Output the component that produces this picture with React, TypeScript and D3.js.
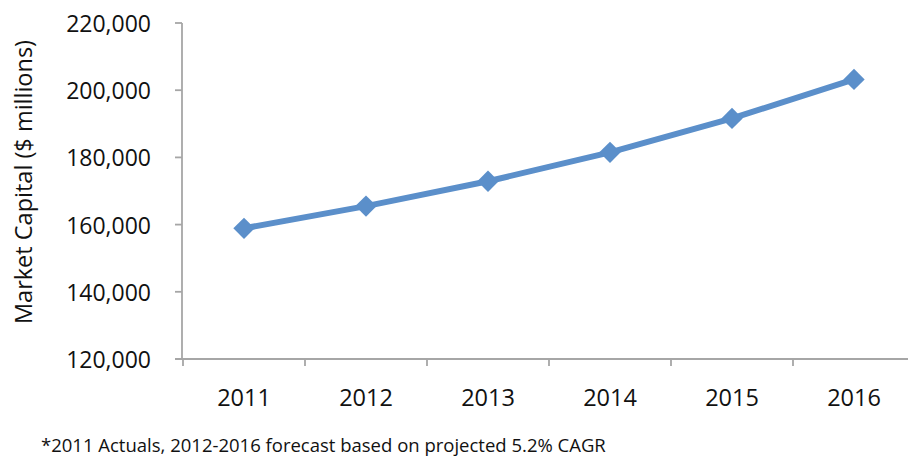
import React from "react";
import * as d3 from "d3";

const years = ["2011", "2012", "2013", "2014", "2015", "2016"];
const marketCap = [158900, 165500, 172900, 181500, 191600, 203200];
const yTicks = [120000, 140000, 160000, 180000, 200000, 220000];
const yTitle = "Market Capital ($ millions)";
const footnote = "*2011 Actuals, 2012-2016 forecast based on projected 5.2% CAGR";

const W = 908;
const H = 459;
const FONT = "'Open Sans', 'Noto Sans', sans-serif";
const AXIS = "#a6a6a6";
const BLUE = "#5b8fca";
const TEXT = "#111";

export default function App() {
  const x = d3.scaleBand<string>().domain(years).range([183, 915]);
  const y = d3.scaleLinear().domain([120000, 220000]).range([359, 23]);
  const fmt = d3.format(",");
  const cx = (i: number) => (x(years[i]) as number) + x.bandwidth() / 2;
  const line = d3
    .line<number>()
    .x((_, i) => cx(i))
    .y((d) => y(d));
  const diamond = d3.symbol().type(d3.symbolDiamond2).size(290)();

  return (
    <svg
      width={W}
      height={H}
      style={{ position: "absolute", left: 0, top: 0, background: "#fff" }}
      fontFamily={FONT}
    >
      {/* y axis */}
      <line x1={182} x2={182} y1={y(220000)} y2={y(120000)} stroke={AXIS} strokeWidth={1.8} />
      {yTicks.map((t) => (
        <g key={t}>
          <line x1={175} x2={182} y1={y(t)} y2={y(t)} stroke={AXIS} strokeWidth={1.8} />
          <text
            x={151}
            y={y(t)}
            textAnchor="end"
            dominantBaseline="central"
            fontSize={23}
            fill={TEXT}
          >
            {fmt(t)}
          </text>
        </g>
      ))}
      {/* x axis */}
      <line x1={175} x2={W} y1={y(120000)} y2={y(120000)} stroke={AXIS} strokeWidth={1.8} />
      {years.map((yr, i) => (
        <g key={yr}>
          <line
            x1={x(yr) as number}
            x2={x(yr) as number}
            y1={y(120000)}
            y2={y(120000) + 7}
            stroke={AXIS}
            strokeWidth={1.8}
          />
          <text
            x={cx(i)}
            y={397}
            textAnchor="middle"
            dominantBaseline="central"
            fontSize={23.5}
            fill={TEXT}
          >
            {yr}
          </text>
        </g>
      ))}
      {/* y title */}
      <text
        transform={`translate(23, 182) rotate(-90)`}
        textAnchor="middle"
        dominantBaseline="central"
        fontSize={23.5}
        fill={TEXT}
      >
        {yTitle}
      </text>
      {/* line */}
      <path d={line(marketCap) || ""} fill="none" stroke={BLUE} strokeWidth={6} strokeLinejoin="round" />
      {marketCap.map((v, i) => (
        <path key={i} d={diamond || ""} transform={`translate(${cx(i)}, ${y(v)})`} fill={BLUE} />
      ))}
      {/* footnote */}
      <text x={41} y={452} fontSize={18.5} fill={TEXT}>
        {footnote}
      </text>
    </svg>
  );
}
